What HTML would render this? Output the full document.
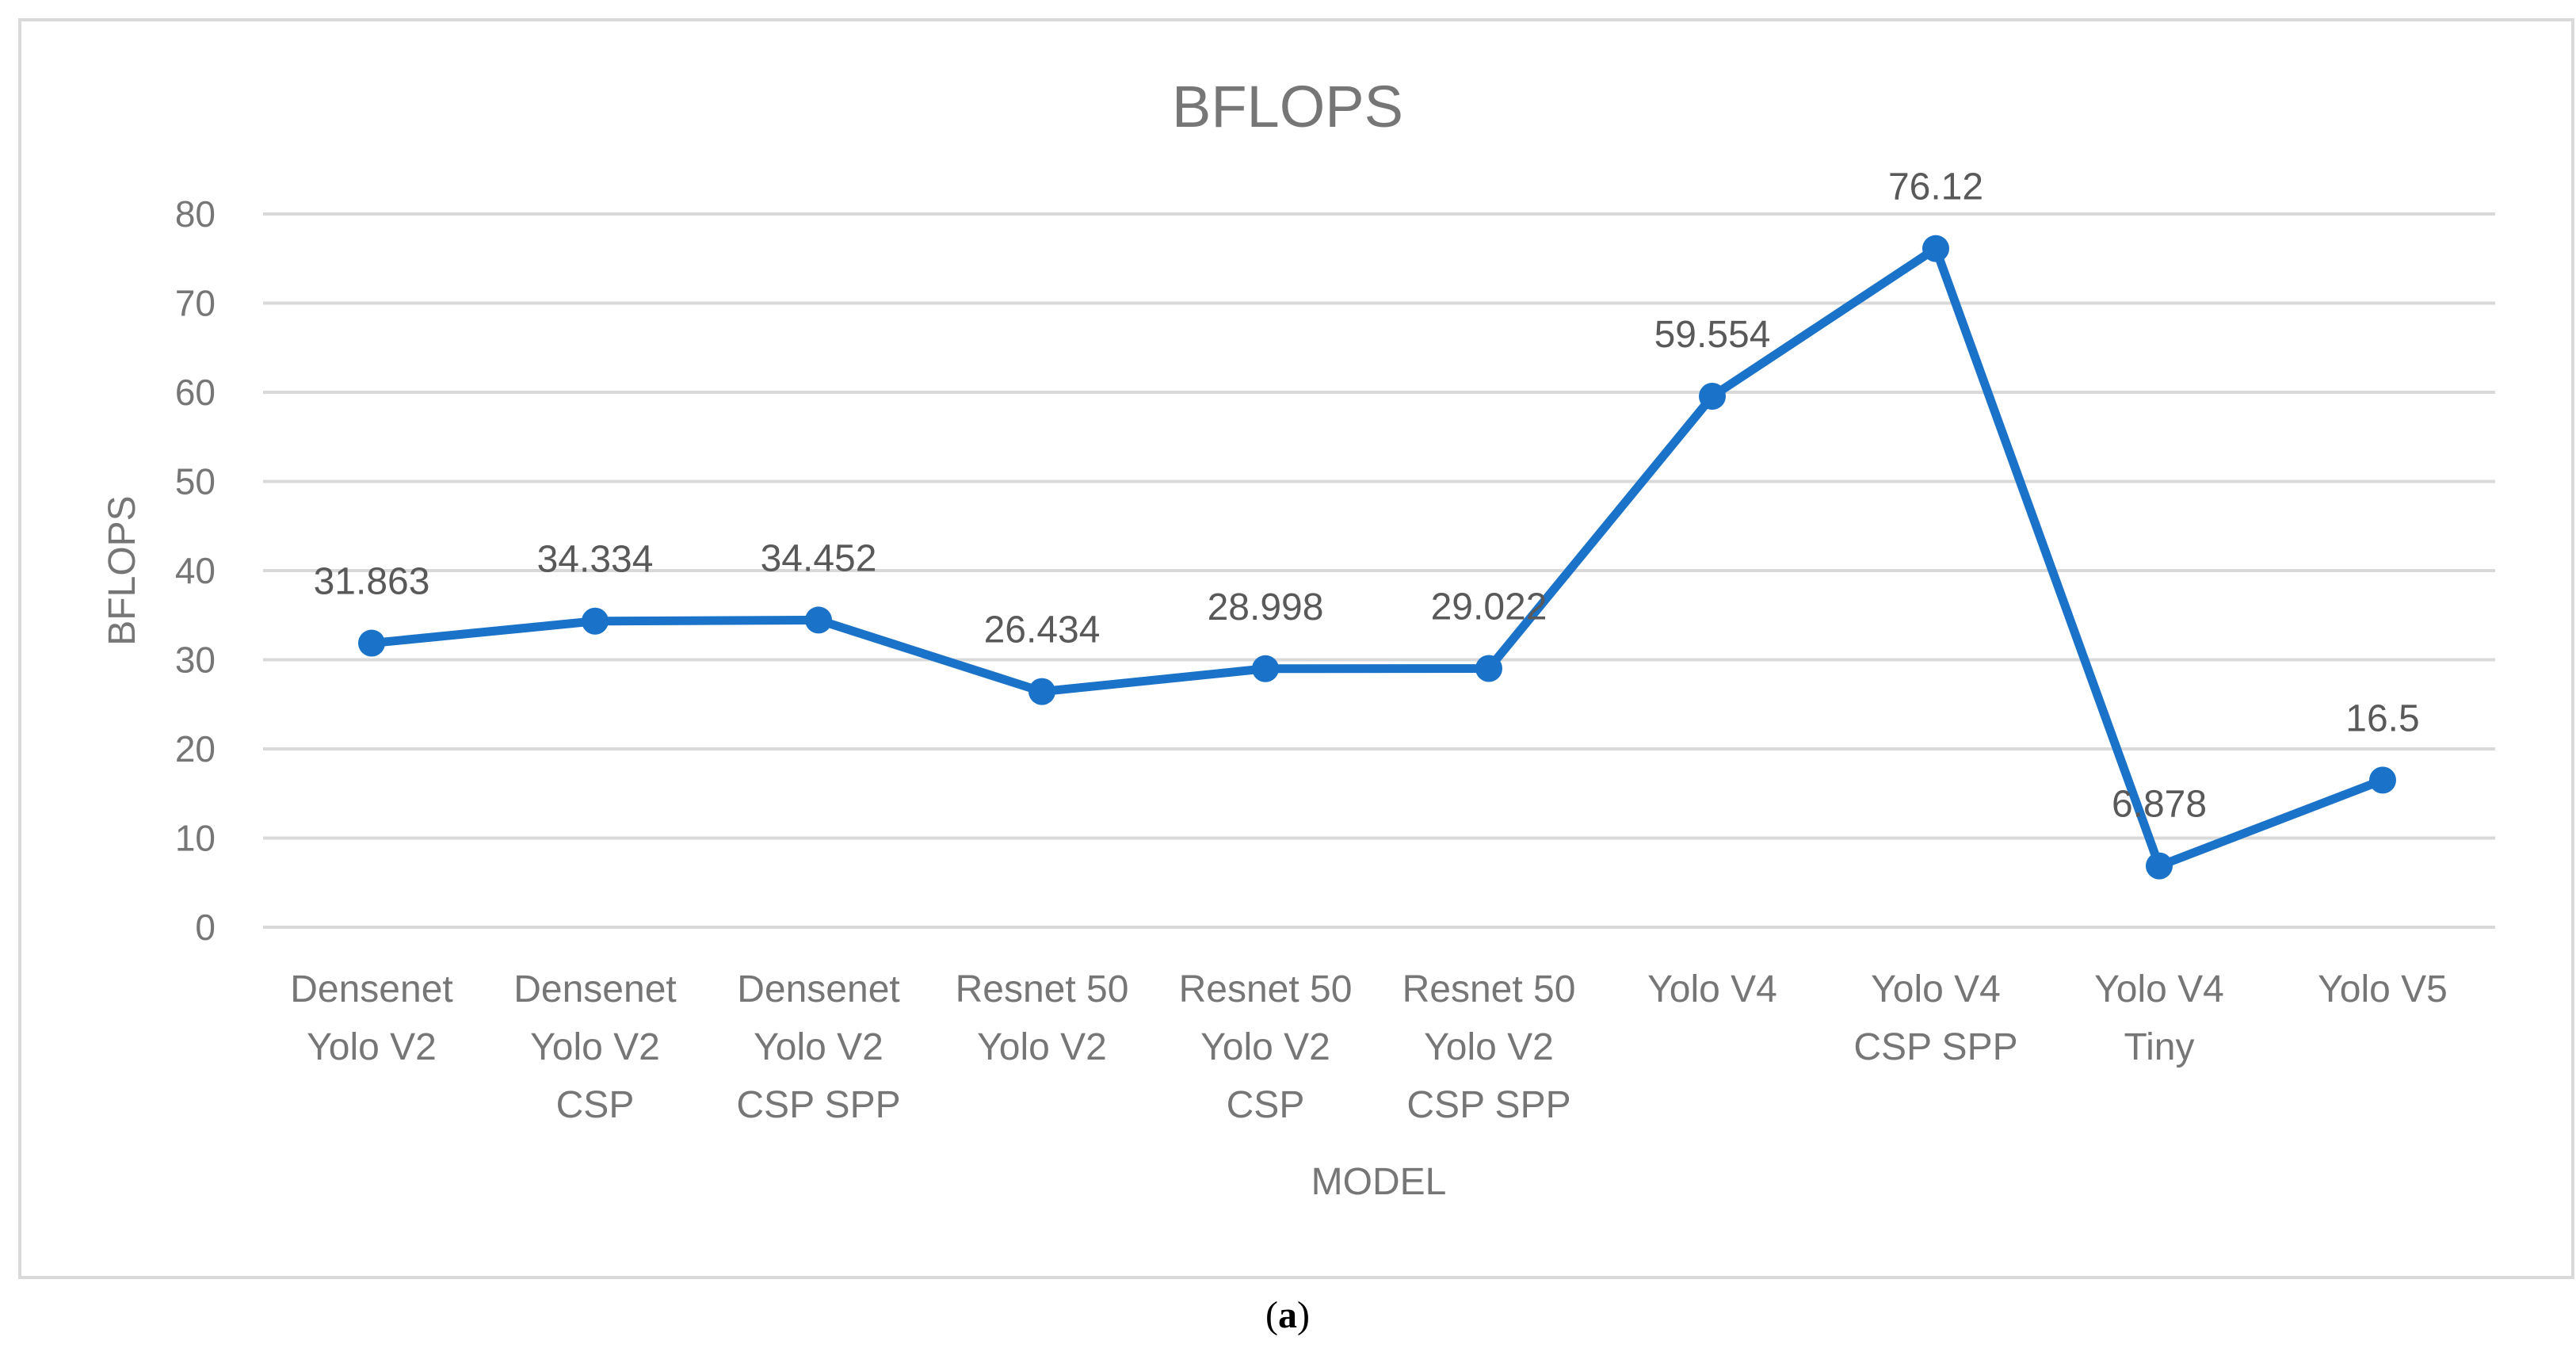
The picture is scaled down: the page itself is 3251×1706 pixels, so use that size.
<!DOCTYPE html>
<html><head><meta charset="utf-8"><style>
html,body{margin:0;padding:0;background:#fff;}
svg{display:block;font-family:"Liberation Sans",sans-serif;}
</style></head><body>
<svg id="chart" width="3251" height="1706" viewBox="0 0 3251 1706">
<rect x="25" y="25" width="3222" height="1587" fill="#fff" stroke="#d9d9d9" stroke-width="4"/>
<text x="1625" y="160" text-anchor="middle" font-size="74" fill="#767676">BFLOPS</text>
<g id="grid"></g><g id="yticks"></g><g id="xticks"></g><g id="series"></g><g id="labels"></g>
<text transform="translate(170,720) rotate(-90)" text-anchor="middle" font-size="48" fill="#767676">BFLOPS</text>
<text x="1740" y="1507" text-anchor="middle" font-size="48" fill="#767676">MODEL</text>
<text x="1625" y="1675" text-anchor="middle" font-size="48" fill="#000" font-family="Liberation Serif, serif">(<tspan font-weight="bold">a</tspan>)</text>
</svg>
<script>
const categories = [["Densenet","Yolo V2"],["Densenet","Yolo V2","CSP"],["Densenet","Yolo V2","CSP SPP"],["Resnet 50","Yolo V2"],["Resnet 50","Yolo V2","CSP"],["Resnet 50","Yolo V2","CSP SPP"],["Yolo V4"],["Yolo V4","CSP SPP"],["Yolo V4","Tiny"],["Yolo V5"]];
const values = [31.863,34.334,34.452,26.434,28.998,29.022,59.554,76.12,6.878,16.5];
const valueLabels = ["31.863","34.334","34.452","26.434","28.998","29.022","59.554","76.12","6.878","16.5"];
const yTicks = [0,10,20,30,40,50,60,70,80];
const NS="http://www.w3.org/2000/svg";
const X0=328,X1=3148,Y0=1170,Y80=270;
function xPos(i){return X0+(X1-X0)/categories.length*(i+0.5);}
function yPos(v){return Y0-(Y0-Y80)*v/80;}
function mk(tag,attrs,parent){const e=document.createElementNS(NS,tag);for(const k in attrs)e.setAttribute(k,attrs[k]);document.getElementById(parent).appendChild(e);return e;}
yTicks.forEach(t=>{
  const l=mk('line',{x1:332,x2:3149,y1:yPos(t),y2:yPos(t),stroke:'#d9d9d9','stroke-width':4},'grid');
  
  
  const tx=mk('text',{x:272,y:yPos(t)+16,'text-anchor':'end','font-size':46,fill:'#767676'},'yticks');
  tx.textContent=t;
  
  
});
categories.forEach((c,i)=>{
  const tx=mk('text',{'text-anchor':'middle','font-size':48,fill:'#767676'},'xticks');
  
  
  c.forEach((ln,j)=>{const s=document.createElementNS(NS,'tspan');s.setAttribute('x',xPos(i));s.setAttribute('y',1264+j*73);s.textContent=ln;tx.appendChild(s);});
});
const pts=values.map((v,i)=>xPos(i)+','+yPos(v)).join(' ');
const pl=mk('polyline',{points:pts,fill:'none',stroke:'#1a73c8','stroke-width':11,'stroke-linejoin':'round'},'series');


values.forEach((v,i)=>{
  const c=mk('circle',{cx:xPos(i),cy:yPos(v),r:17,fill:'#1a73c8'},'series');
  
  
  const t=mk('text',{x:xPos(i),y:yPos(v)-62,'text-anchor':'middle','font-size':48,fill:'#595959'},'labels');
  t.textContent=valueLabels[i];
  
  
});
</script>
</body></html>
